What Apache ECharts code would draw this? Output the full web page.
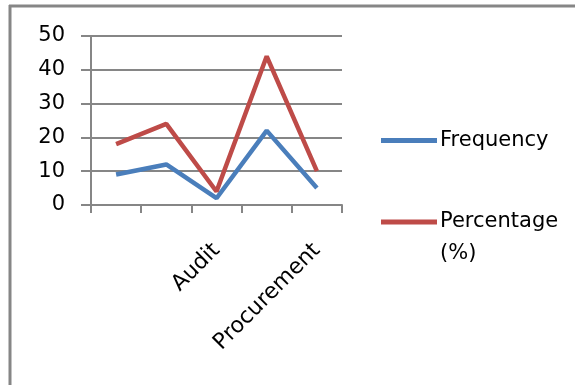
<!DOCTYPE html>
<html>
<head>
<meta charset="utf-8">
<script src="https://cdn.jsdelivr.net/npm/echarts@6/dist/echarts.min.js"></script>
<style>
  html, body { margin: 0; padding: 0; background: #fff; }
  #chart { width: 575px; height: 385px; }
</style>
</head>
<body>
<div id="chart"></div>
<script>
// Departments along the x axis (only some carry a printed name)
const categories = ["", "", "Audit", "", "Procurement"];
// Counts and their share of the total
const frequency = [9, 12, 2, 22, 5];
const percentage = [18, 24, 4, 44, 10];
const yTicks = [0, 10, 20, 30, 40, 50];

const FONT = "DejaVu Sans";
const GRAY = "#868686";
const BLUE = "#4a7ebb";
const RED = "#be4b48";

const chart = echarts.init(document.getElementById("chart"), null, { renderer: "canvas" });

chart.setOption({
  animation: false,
  backgroundColor: "#fff",
  graphic: [
    // frame along the top and left edges
    { type: "line", shape: { x1: 9, y1: 6, x2: 580, y2: 6 }, style: { stroke: GRAY, lineWidth: 3 } },
    { type: "line", shape: { x1: 10, y1: 5, x2: 10, y2: 390 }, style: { stroke: GRAY, lineWidth: 3 } }
  ],
  grid: { left: 91, right: 233, top: 36, bottom: 180, containLabel: false },
  xAxis: {
    type: "category",
    data: categories,
    boundaryGap: true,
    axisLine: { show: true, lineStyle: { color: GRAY, width: 2 } },
    axisTick: { show: true, length: 8, lineStyle: { color: GRAY, width: 2 } },
    axisLabel: {
      interval: 0,
      rotate: 45,
      margin: 42,
      color: "#000",
      fontFamily: FONT,
      fontSize: 22
    }
  },
  yAxis: {
    type: "value",
    min: yTicks[0],
    max: yTicks[yTicks.length - 1],
    interval: 10,
    axisLine: { show: true, lineStyle: { color: GRAY, width: 2 } },
    axisTick: { show: true, length: 10, lineStyle: { color: GRAY, width: 2 } },
    splitLine: { show: true, lineStyle: { color: GRAY, width: 2 } },
    axisLabel: { margin: 26, color: "#000", fontFamily: FONT, fontSize: 21 }
  },
  legend: [
    {
      data: ["Frequency"],
      left: 381, top: 130,
      padding: 0,
      orient: "vertical",
      itemWidth: 56, itemHeight: 5,
      icon: "rect",
      textStyle: { color: "#000", fontFamily: FONT, fontSize: 21, padding: [0, 0, 0, -2] }
    },
    {
      data: ["Percentage (%)"],
      left: 381, top: 174,
      padding: 0,
      orient: "vertical",
      itemWidth: 56, itemHeight: 5,
      icon: "rect",
      // empty first line keeps the swatch level with "Percentage"
      formatter: name => "\n" + name.replace(" (", "\n("),
      textStyle: { color: "#000", fontFamily: FONT, fontSize: 21, lineHeight: 32, padding: [0, 0, 0, -2] }
    }
  ],
  series: [
    {
      name: "Frequency",
      type: "line",
      data: frequency,
      symbol: "none",
      lineStyle: { color: BLUE, width: 4.5 },
      itemStyle: { color: BLUE }
    },
    {
      name: "Percentage (%)",
      type: "line",
      data: percentage,
      symbol: "none",
      lineStyle: { color: RED, width: 4.5 },
      itemStyle: { color: RED }
    }
  ]
});
</script>
</body>
</html>
